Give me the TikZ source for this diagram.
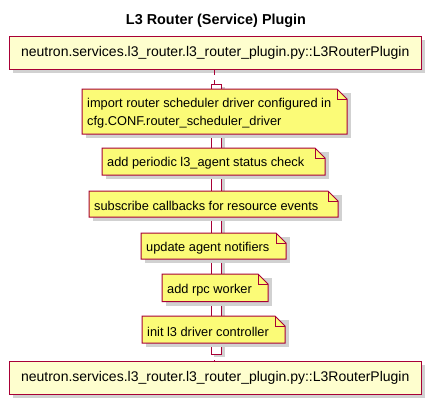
\documentclass[tikz,border=0pt]{standalone}
\usepackage{fontspec}
\setmainfont{Liberation Sans}
\definecolor{pborder}{HTML}{A80036}
\definecolor{pfill}{HTML}{FEFECE}
\definecolor{nfill}{HTML}{FBFB77}
\tikzset{
  partbox/.style={draw=pborder, fill=pfill, line width=1pt, minimum width=412.5pt, minimum height=33pt, inner sep=0pt, font=\fontsize{14pt}{16pt}\selectfont, anchor=north west},
  notetext/.style={inner sep=0pt, anchor=west, align=left, font=\fontsize{12.8pt}{18pt}\selectfont},
  noteline/.style={draw=pborder, fill=nfill, line width=1pt, line join=miter},
  shade/.style={fill=black!18},
  lifeline/.style={draw=pborder, line width=1pt, dash pattern=on 5pt off 5pt},
}
\newcommand{\mknote}[6]{% name, x1, y1, x2, y2, text
  \fill[shade] (#2+4,#3+4) rectangle (#4+4,#5+4);
  \path[noteline] (#2,#3) -- (#4-10,#3) -- (#4,#3+10) -- (#4,#5) -- (#2,#5) -- cycle;
  \draw[pborder, line width=1pt] (#4-10,#3) -- (#4-10,#3+10) -- (#4,#3+10);
  \node[notetext] (#1) at (#2+5,{(#3+#5)/2+2}) {#6};
}
\begin{document}
\begin{tikzpicture}[x=1pt,y=-1pt]
\useasboundingbox (0,0) rectangle (431,405);
% title
\node[font=\bfseries\fontsize{14.4pt}{16pt}\selectfont] (title) at (216,21) {L3 Router (Service) Plugin};
% participant boxes
\fill[shade] (12.5,40) rectangle (425,73);
\node[partbox] (top) at (8.5,36) {neutron.services.l3\_router.l3\_router\_plugin.py::L3RouterPlugin};
\fill[shade] (12.5,365) rectangle (425,398);
\node[partbox] (bot) at (8.5,361) {neutron.services.l3\_router.l3\_router\_plugin.py::L3RouterPlugin};
% lifeline
\draw[lifeline] ([xshift=-0.3pt]top.south) -- ([xshift=-0.3pt]bot.north);
% activation bar
\fill[shade] (214,87) rectangle (225,357);
\draw[draw=pborder, fill=white, line width=1pt] (211,84) rectangle (221.5,354);
% notes
\mknote{n1}{82}{89}{347}{134}{import router scheduler driver configured in\\cfg.CONF.router\_scheduler\_driver}
\mknote{n2}{102}{148}{325}{175}{add periodic l3\_agent status check}
\mknote{n3}{89}{191}{338}{217}{subscribe callbacks for resource events}
\mknote{n4}{141}{233}{286}{259}{update agent notifiers}
\mknote{n5}{162}{274}{268}{301.5}{add rpc worker}
\mknote{n6}{142}{316}{285}{343}{init l3 driver controller}
\end{tikzpicture}
\end{document}
